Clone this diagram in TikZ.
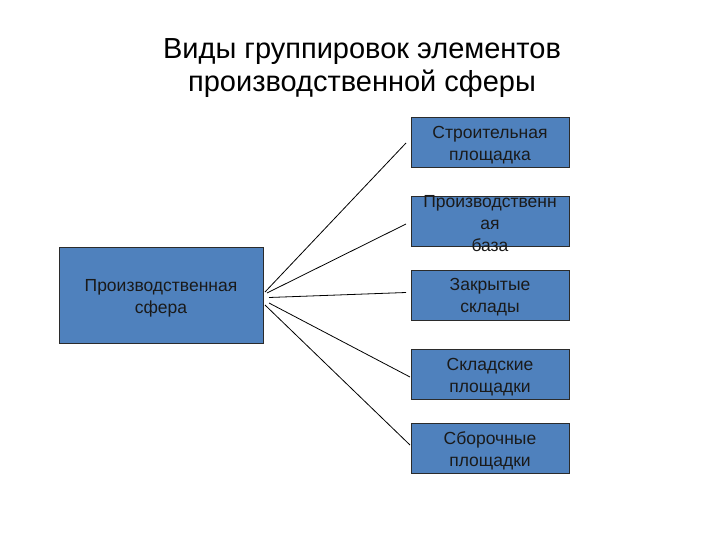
\documentclass[tikz,border=0pt]{standalone}
\usepackage{fontspec}
\setmainfont{Liberation Sans}
\definecolor{boxblue}{HTML}{4F81BD}
\definecolor{boxline}{HTML}{2B2B2B}
\definecolor{txt}{HTML}{1A1A1A}
\begin{document}
\begin{tikzpicture}[x=1pt,y=-1pt,
  box/.style={draw=boxline,line width=0.9pt,fill=boxblue,inner sep=0pt,
    text=txt,align=center,font=\fontsize{17.5}{22}\selectfont},
  rbox/.style={box,minimum width=158pt,minimum height=50pt},
  lbl/.style={text=txt,align=center,font=\fontsize{17.5}{22}\selectfont},
  conn/.style={draw=black,line width=0.8pt}]
\useasboundingbox (0,0) rectangle (720,540);
\node[align=center,font=\fontsize{29}{33}\selectfont] (title) at (362,68)
  {Виды группировок элементов\\производственной сферы};
\node[box,minimum width=204pt,minimum height=96pt] (L) at (161,295) {};
\node[lbl] (Lt) at (161,298) {Производственная\\сфера};
\node[rbox] (R1) at (490,142) {};
\node[lbl] (R1t) at (490,145) {Строительная\\площадка};
\node[rbox] (R2) at (490,221) {};
\node[lbl] (R2t) at (490,224) {Производственн\\ая\\база};
\node[rbox] (R3) at (490,295) {};
\node[lbl] (R3t) at (490,297) {Закрытые\\склады};
\node[rbox] (R4) at (490,374) {};
\node[lbl] (R4t) at (490,377) {Складские\\площадки};
\node[rbox] (R5) at (490,448) {};
\node[lbl] (R5t) at (490,451) {Сборочные\\площадки};
\coordinate (s1) at (265,292);
\coordinate (s2) at (267,293);
\coordinate (s3) at (269,297.5);
\coordinate (s4) at (269,303);
\coordinate (s5) at (265,305);
\coordinate (e1) at (406,143);
\coordinate (e2) at (406,224);
\coordinate (e3) at (406,292.5);
\coordinate (e4) at (410,377);
\coordinate (e5) at (410,445);
\draw[conn] (s1) -- (e1);
\draw[conn] (s2) -- (e2);
\draw[conn] (s3) -- (e3);
\draw[conn] (s4) -- (e4);
\draw[conn] (s5) -- (e5);
\end{tikzpicture}
\end{document}
